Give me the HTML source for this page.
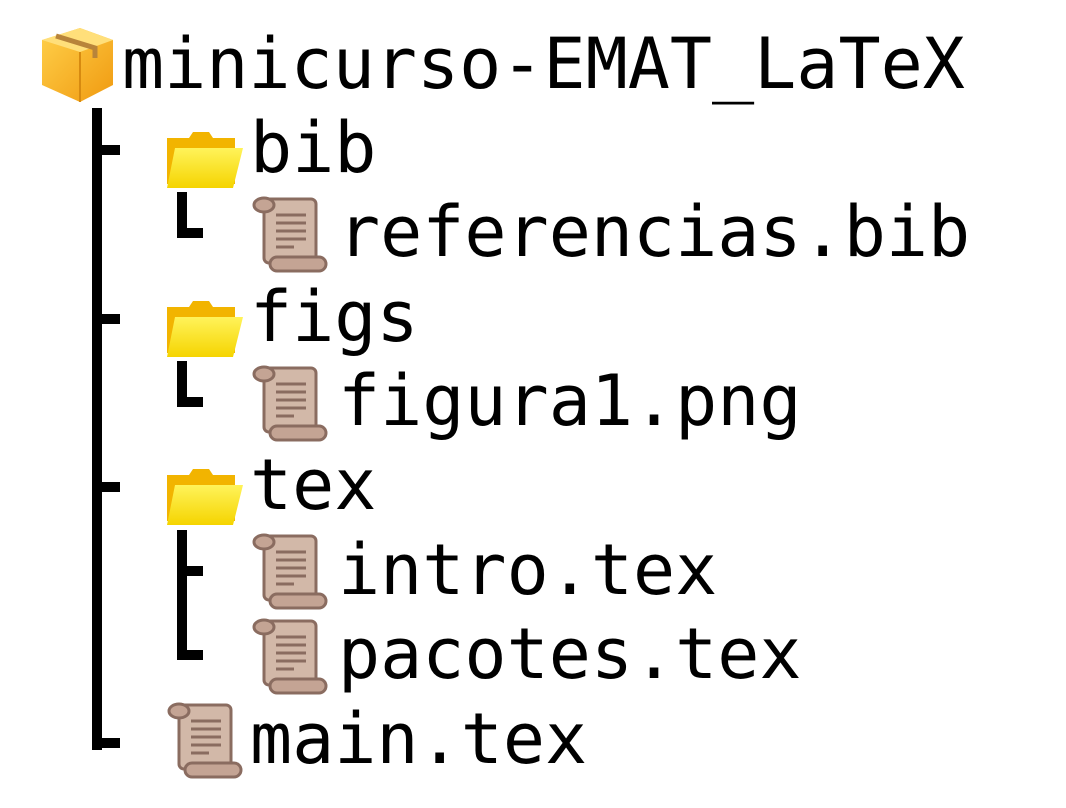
<!DOCTYPE html>
<html><head><meta charset="utf-8"><style>
html,body{margin:0;padding:0;background:#fff;width:1066px;height:808px;overflow:hidden}
text{font-family:"DejaVu Sans Mono","Liberation Mono",monospace;font-size:70px;fill:#000}
</style></head><body>
<svg width="1066" height="808" viewBox="0 0 1066 808" xmlns="http://www.w3.org/2000/svg">
<defs>
<linearGradient id="fg" x1="0" y1="0" x2="0" y2="1"><stop offset="0" stop-color="#fff35a"/><stop offset="1" stop-color="#f5d400"/></linearGradient>
<linearGradient id="bx" x1="0" y1="0" x2="1" y2="1"><stop offset="0" stop-color="#ffd04a"/><stop offset="1" stop-color="#f09a10"/></linearGradient>
<g id="folder">
<path d="M2 10 h22 l4 -6 h16 l4 6 h22 v46 h-68z" fill="#f2b400"/>
<path d="M10 20 h68 l-10 40 h-66z" fill="url(#fg)"/>
</g>
<g id="scroll">
<rect x="14" y="4" width="52" height="64" rx="5" fill="#d2b8a8" stroke="#8a6c60" stroke-width="3"/>
<ellipse cx="14" cy="10" rx="10" ry="7" fill="#c4a494" stroke="#8a6c60" stroke-width="3"/>
<rect x="20" y="62" width="56" height="14" rx="7" fill="#c4a494" stroke="#8a6c60" stroke-width="3"/>
<g stroke="#8a6c60" stroke-width="3"><line x1="26" y1="20" x2="56" y2="20"/><line x1="26" y1="28" x2="56" y2="28"/><line x1="26" y1="36" x2="56" y2="36"/><line x1="26" y1="44" x2="56" y2="44"/><line x1="26" y1="52" x2="44" y2="52"/></g>
</g>
</defs>
<!-- box -->
<path d="M42 40 L80 28 L113 40 L113 85 L80 102 L42 85 Z" fill="url(#bx)"/>
<path d="M42 40 L80 28 L113 40 L80 52 Z" fill="#ffdf7a"/>
<path d="M80 52 L80 102" stroke="#d78a10" stroke-width="2"/>
<path d="M56 36 L95 48 L95 58" stroke="#b8843a" stroke-width="5" fill="none"/>
<!-- tree lines -->
<g fill="#000">
<rect x="92" y="108" width="10" height="642"/>
<rect x="92" y="145" width="28" height="10"/>
<rect x="92" y="314" width="28" height="10"/>
<rect x="92" y="482" width="28" height="10"/>
<rect x="92" y="738" width="28" height="10"/>
<rect x="177" y="192" width="10" height="46"/><rect x="177" y="228" width="26" height="10"/>
<rect x="177" y="361" width="10" height="46"/><rect x="177" y="397" width="26" height="10"/>
<rect x="177" y="530" width="10" height="130"/><rect x="177" y="566" width="26" height="10"/><rect x="177" y="650" width="26" height="10"/>
</g>
<use href="#folder" x="165" y="128"/>
<use href="#folder" x="165" y="297"/>
<use href="#folder" x="165" y="465"/>
<use href="#scroll" x="250" y="195"/>
<use href="#scroll" x="250" y="364"/>
<use href="#scroll" x="250" y="532"/>
<use href="#scroll" x="250" y="617"/>
<use href="#scroll" x="165" y="701"/>
<text x="122" y="88">minicurso-EMAT_LaTeX</text>
<text x="250" y="172">bib</text>
<text x="338" y="256">referencias.bib</text>
<text x="250" y="341">figs</text>
<text x="338" y="425">figura1.png</text>
<text x="250" y="509">tex</text>
<text x="338" y="594">intro.tex</text>
<text x="338" y="678">pacotes.tex</text>
<text x="250" y="763">main.tex</text>
</svg>
</body></html>
